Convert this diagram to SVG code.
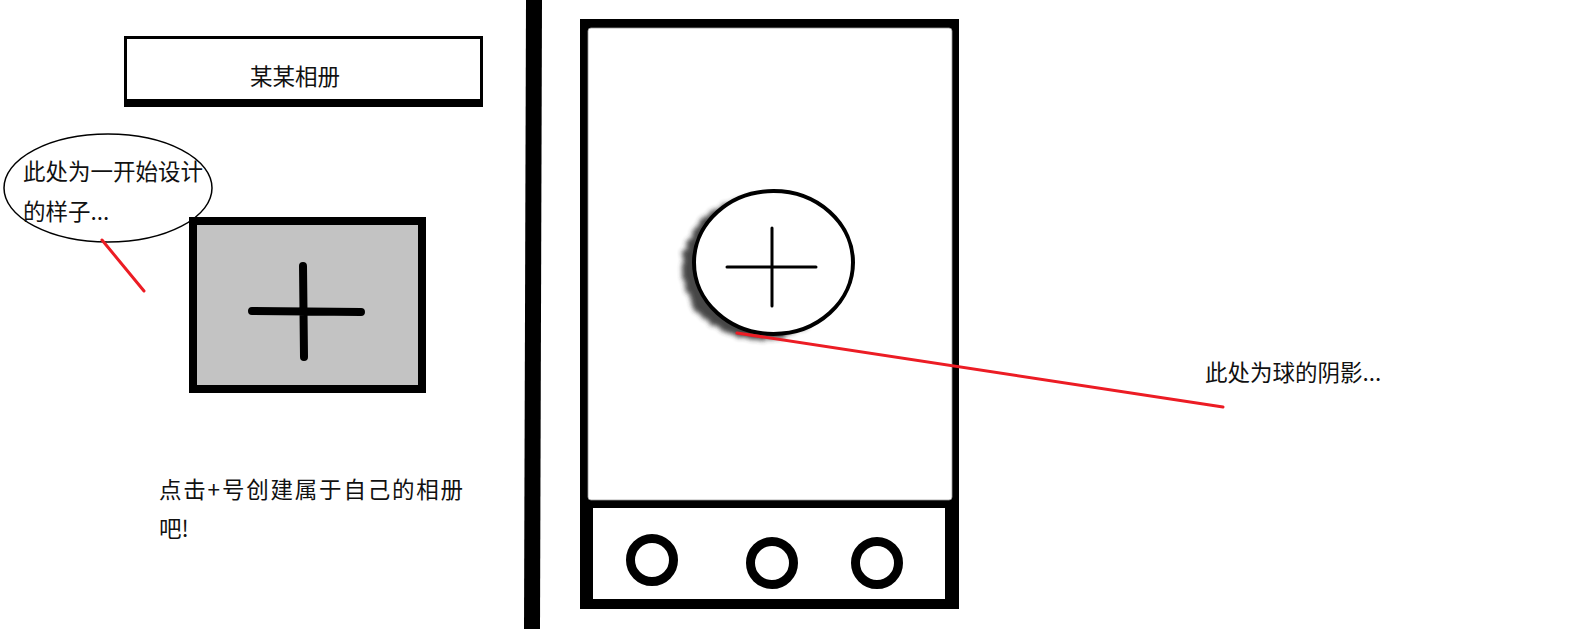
<svg xmlns="http://www.w3.org/2000/svg" width="1575" height="629" viewBox="0 0 1575 629">
<style>
.t{font-family:"Noto Sans CJK SC","Liberation Sans",sans-serif;font-size:22.5px;fill:#111}
.sp{letter-spacing:1.8px}
.red{stroke:#ec1c24;stroke-width:3;fill:none;stroke-linecap:round}
.ring{fill:#fff;stroke:#000;stroke-width:9}
</style>
<defs>
<filter id="smudge" x="-30%" y="-30%" width="160%" height="160%">
<feTurbulence type="fractalNoise" baseFrequency="0.12" numOctaves="2" seed="3" result="n"/>
<feDisplacementMap in="SourceGraphic" in2="n" scale="9" xChannelSelector="R" yChannelSelector="G" result="d"/>
<feGaussianBlur in="d" stdDeviation="2.5"/>
</filter>
</defs>
<rect width="1575" height="629" fill="#fff"/>

<g id="title">
<rect x="124" y="36" width="359" height="71" fill="#000"/>
<rect x="127" y="39" width="353" height="60" fill="#fff"/>
<text class="t" x="295" y="85" text-anchor="middle">某某相册</text>
</g>

<g id="note-bubble">
<ellipse cx="108" cy="188" rx="104" ry="54" fill="#fff" stroke="#000" stroke-width="1.5"/>
<text class="t" x="23" y="180">此处为一开始设计</text>
<text class="t" x="23" y="220">的样子...</text>
</g>

<g id="add-box">
<rect x="193" y="221" width="229" height="168" fill="#c3c3c3" stroke="#000" stroke-width="8"/>
<path d="M252 311 L361 312 M303 266 L304 357" stroke="#000" stroke-width="8" stroke-linecap="round" fill="none"/>
</g>

<g id="caption">
<text class="t sp" x="159" y="498">点击+号创建属于自己的相册</text>
<text class="t" x="159" y="537">吧!</text>
</g>

<g id="divider">
<polygon points="526,0 542,0 540,629 524,629" fill="#000"/>
</g>

<g id="phone">
<rect x="580" y="19" width="379" height="590" fill="#000"/>
<rect x="588" y="28" width="364" height="472" rx="3" fill="#fff" stroke="#999" stroke-width="0.8"/>
<rect x="593" y="508" width="352" height="91" fill="#fff"/>
<circle class="ring" cx="652" cy="560" r="21.5"/>
<circle class="ring" cx="772" cy="563" r="21.5"/>
<circle class="ring" cx="877" cy="563" r="21.5"/>
</g>

<g id="ball">
<ellipse cx="761" cy="268" rx="79" ry="71" fill="#333" opacity="0.9" filter="url(#smudge)"/>
<ellipse cx="773.5" cy="262.5" rx="79.5" ry="71.5" fill="#fff" stroke="#000" stroke-width="4"/>
<path d="M727 267 L816 267 M772 228 L772 306" stroke="#000" stroke-width="3" stroke-linecap="round" fill="none"/>
</g>

<g id="shadow-note">
<text class="t" x="1205" y="381">此处为球的阴影...</text>
</g>

<g id="connectors">
<line class="red" x1="102" y1="240" x2="144" y2="291"/>
<line class="red" x1="737" y1="333" x2="1223" y2="407"/>
</g>
</svg>
